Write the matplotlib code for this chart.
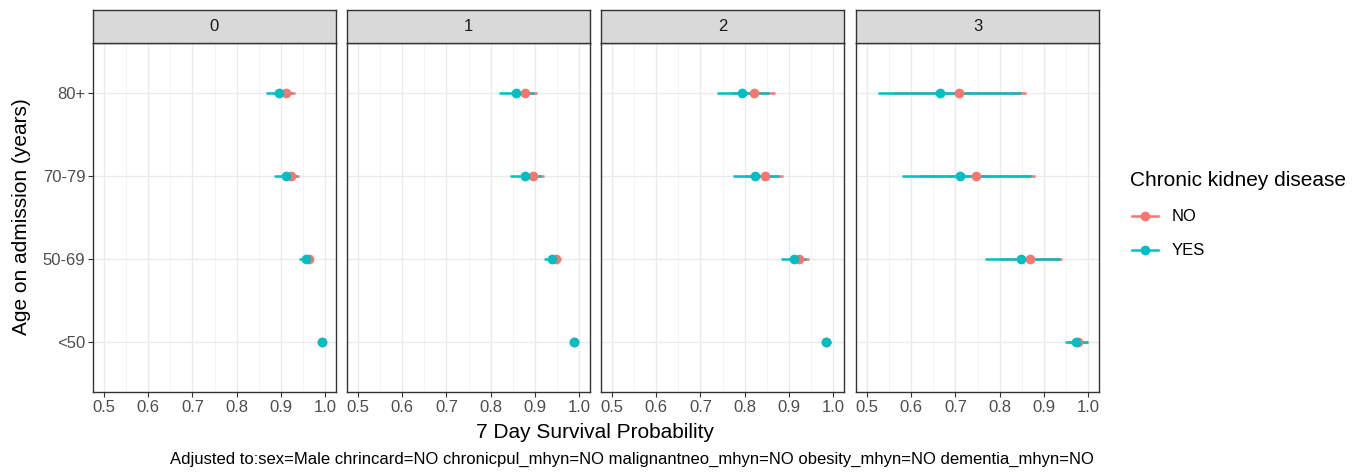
import matplotlib
matplotlib.use("Agg")
import matplotlib.pyplot as plt
from matplotlib.lines import Line2D

plt.rcParams["font.family"] = ["Liberation Sans", "DejaVu Sans"]

# facets (grouping) and age categories, bottom to top
facets = ["0", "1", "2", "3"]
ages = ["<50", "50-69", "70-79", "80+"]

# estimates and 95% CI per facet, order follows ages
no_est = [[0.993, 0.963, 0.924, 0.912],
          [0.989, 0.948, 0.896, 0.878],
          [0.985, 0.923, 0.847, 0.821],
          [0.977, 0.868, 0.746, 0.707]]
no_lo = [[0.990, 0.952, 0.905, 0.890],
         [0.985, 0.935, 0.870, 0.850],
         [0.980, 0.900, 0.800, 0.770],
         [0.955, 0.800, 0.620, 0.560]]
no_hi = [[0.996, 0.972, 0.942, 0.932],
         [0.993, 0.960, 0.920, 0.904],
         [0.995, 0.945, 0.887, 0.868],
         [0.999, 0.941, 0.880, 0.860]]
yes_est = [[0.993, 0.958, 0.912, 0.896],
           [0.989, 0.939, 0.878, 0.857],
           [0.985, 0.911, 0.823, 0.795],
           [0.973, 0.848, 0.710, 0.666]]
yes_lo = [[0.990, 0.942, 0.885, 0.867],
          [0.985, 0.920, 0.844, 0.820],
          [0.980, 0.882, 0.774, 0.738],
          [0.947, 0.768, 0.580, 0.524]]
yes_hi = [[0.996, 0.966, 0.937, 0.925],
          [0.993, 0.955, 0.915, 0.898],
          [0.995, 0.939, 0.878, 0.856],
          [0.999, 0.936, 0.870, 0.848]]

xticks = [0.5, 0.6, 0.7, 0.8, 0.9, 1.0]
red = "#F8766D"
teal = "#00BFC4"

W, H = 1362, 473
fig = plt.figure(figsize=(W / 100, H / 100), dpi=100)

def box(x0, y0, x1, y1):
    # pixel box (top-left origin) -> figure fraction
    return [x0 / W, 1 - y1 / H, (x1 - x0) / W, (y1 - y0) / H]

lefts = [93, 347, 601, 856]
pw = 243
for i, f in enumerate(facets):
    ax = fig.add_axes(box(lefts[i], 43, lefts[i] + pw, 392))
    ax.set_xlim(0.475, 1.025)
    ax.set_ylim(0.4, 4.6)
    ax.set_xticks(xticks)
    ax.set_xticklabels(["%.1f" % t for t in xticks])
    ax.set_xticks([0.55, 0.65, 0.75, 0.85, 0.95], minor=True)
    ax.set_yticks(range(1, 5))
    ax.set_yticklabels(ages if i == 0 else [])
    ax.grid(which="major", color="#EBEBEB", lw=1.0)
    ax.grid(which="minor", axis="x", color="#F2F2F2", lw=0.6)
    ax.set_axisbelow(True)
    ax.tick_params(which="major", length=3.5, width=0.8, color="#333333",
                   labelsize=12, labelcolor="#4D4D4D", pad=2)
    ax.tick_params(which="minor", length=0)
    if i > 0:
        ax.tick_params(axis="y", length=0)
    for s in ax.spines.values():
        s.set_color("#333333")
        s.set_linewidth(1.0)

    y = list(range(1, 5))
    ax.hlines(y, no_lo[i], no_hi[i], color=red, lw=1.8, zorder=2)
    ax.hlines(y, yes_lo[i], yes_hi[i], color=teal, lw=1.8, zorder=3)
    ax.plot(no_est[i], y, "o", color=red, ms=7, mew=0, zorder=4)
    ax.plot(yes_est[i], y, "o", color=teal, ms=7, mew=0, zorder=5)

    st = fig.add_axes(box(lefts[i], 10, lefts[i] + pw, 43))
    st.set_facecolor("#D9D9D9")
    st.set_xticks([])
    st.set_yticks([])
    for s in st.spines.values():
        s.set_color("#333333")
        s.set_linewidth(1.0)
    st.text(0.5, 0.5, f, ha="center", va="center", fontsize=12,
            color="#1A1A1A", transform=st.transAxes)

fig.text(595 / W, 1 - 432 / H, "7 Day Survival Probability",
         ha="center", va="center", fontsize=15)
fig.text(22 / W, 1 - 217 / H, "Age on admission (years)",
         ha="center", va="center", rotation=90, fontsize=15)
fig.text(632 / W, 1 - 459 / H,
         "Adjusted to:sex=Male chrincard=NO chronicpul_mhyn=NO malignantneo_mhyn=NO "
         "obesity_mhyn=NO dementia_mhyn=NO",
         ha="center", va="center", fontsize=12)

# legend
fig.text(1130 / W, 1 - 181 / H, "Chronic kidney disease",
         ha="left", va="center", fontsize=15)
for yy, c, lab in [(216, red, "NO"), (250, teal, "YES")]:
    fig.add_artist(Line2D([1132 / W, 1158 / W], [1 - yy / H] * 2,
                          color=c, lw=1.8))
    fig.add_artist(Line2D([1145 / W], [1 - yy / H], marker="o",
                          color=c, ms=7, mew=0))
    fig.text(1172 / W, 1 - yy / H, lab, ha="left", va="center", fontsize=12)

fig.savefig("out.png", dpi=100)
